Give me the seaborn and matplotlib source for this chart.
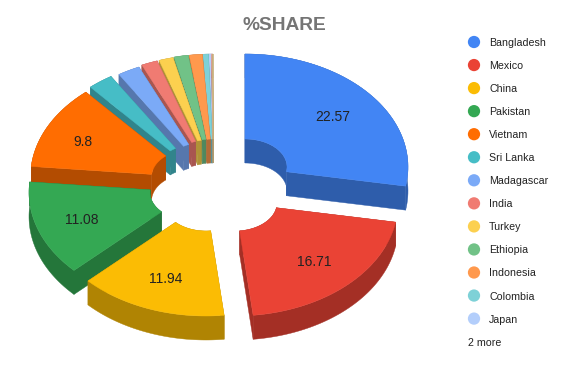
import numpy as np
import pandas as pd
import matplotlib
matplotlib.use("Agg")
import matplotlib.pyplot as plt
import seaborn as sns

# ---------------- DATA ----------------
countries = ['Bangladesh', 'Mexico', 'China', 'Pakistan', 'Vietnam', 'Sri Lanka', 'Madagascar',
             'India', 'Turkey', 'Ethiopia', 'Indonesia', 'Colombia', 'Japan', 'Other 1', 'Other 2']
shares = [22.57, 16.71, 11.94, 11.08, 9.8, 2.05, 1.8, 1.3, 1.15, 1.15, 1.05, 0.45, 0.25, 0.1, 0.05]
n_legend = 13
more_label = '2 more'
title = '%SHARE'
colors = ['#4285F4', '#EA4335', '#FBBC04', '#34A853', '#FF6D01', '#46BDC6', '#7BAAF7',
          '#F07B72', '#FCD04F', '#71C287', '#FF994D', '#7ED1D7', '#B3CEFB', '#F7B4AE', '#FDE49B']

# ---------------- LAYOUT ----------------
# how far each slice is pulled out of the pie, in pixels
pull_x = [27, 17, -12, -26, -24.5, -20, -12, -9, -7, -6, -5, -4.5, -4.5, -4.5, -4.5]
pull_y = [-18, 18, 18, 7.5, -8, -13, -15, -17, -17.5, -18, -18, -18, -18, -18, -18]
label_nudge = [0, 0, -1, -2, -8]
cx, cy = 218, 185
rx, ry = 163, 113
hole_rx, hole_ry = 42, 28
depth = 24
label_frac = 0.705

sns.set_theme(style='white')
plt.rcParams['font.family'] = ['Liberation Sans', 'DejaVu Sans']

fig = plt.figure(figsize=(5.85, 3.71), dpi=100)
ax = fig.add_axes([0, 0, 1, 1])


def ring_edge(a0, a1, x0, y0, a, b):
    t = np.radians(np.linspace(a0, a1, 60))
    return np.column_stack([x0 + a * np.sin(t), y0 - b * np.cos(t)])


# ---------------- PIE SLICES ----------------
ends = np.cumsum(shares) / np.sum(shares) * 360
starts = ends - np.array(shares) / np.sum(shares) * 360

# back slices first
order = np.argsort([pull_y[i] if i > 4 else pull_y[i] + 100 for i in range(len(shares))])
for i in order:
    x0, y0 = cx + pull_x[i], cy + pull_y[i]
    outer = ring_edge(starts[i], ends[i], x0, y0, rx, ry)
    inner = ring_edge(starts[i], ends[i], x0, y0, hole_rx, hole_ry)
    top = np.vstack([outer, inner[::-1]])
    wall_col = tuple(np.array(matplotlib.colors.to_rgb(colors[i])) * 0.7)

    # side walls, the top face hides whatever faces away
    drop = np.array([0, depth])
    for edge in [outer, inner]:
        ax.fill(*np.vstack([edge, (edge + drop)[::-1]]).T, color=wall_col, lw=0.3, zorder=2)
    for p, q in [(outer[0], inner[0]), (outer[-1], inner[-1])]:
        ax.fill(*np.array([p, q, q + drop, p + drop]).T, color=wall_col, lw=0.3, zorder=2)
    ax.fill(*top.T, color=colors[i], lw=0.3, zorder=2)

    # value labels on the big slices
    if shares[i] > 5:
        mid = np.radians((starts[i] + ends[i]) / 2)
        ax.text(x0 + label_frac * rx * np.sin(mid) + label_nudge[i],
                y0 - label_frac * ry * np.cos(mid) + 1,
                str(shares[i]), ha='center', va='center', fontsize=10, color='#222222', zorder=3)

# ---------------- LEGEND ----------------
legend_df = pd.DataFrame({'country': countries[:n_legend],
                          'x': 474,
                          'y': 42 + 23.05 * np.arange(n_legend)})
sns.scatterplot(data=legend_df, x='x', y='y', hue='country', palette=colors[:n_legend],
                s=78, linewidth=0, legend=False, ax=ax)
for name, y in zip(legend_df['country'], legend_df['y']):
    ax.text(489, y + 1, name, ha='left', va='center', fontsize=7.7, color='#222222')
ax.text(468, 343, more_label, ha='left', va='center', fontsize=7.7, color='#222222')

ax.text(284, 25.5, title, ha='center', va='center', fontsize=13.8, fontweight='bold', color='#757575')

ax.set_xlim(0, 585)
ax.set_ylim(371, 0)
ax.axis('off')

fig.savefig('out.png', dpi=100)
